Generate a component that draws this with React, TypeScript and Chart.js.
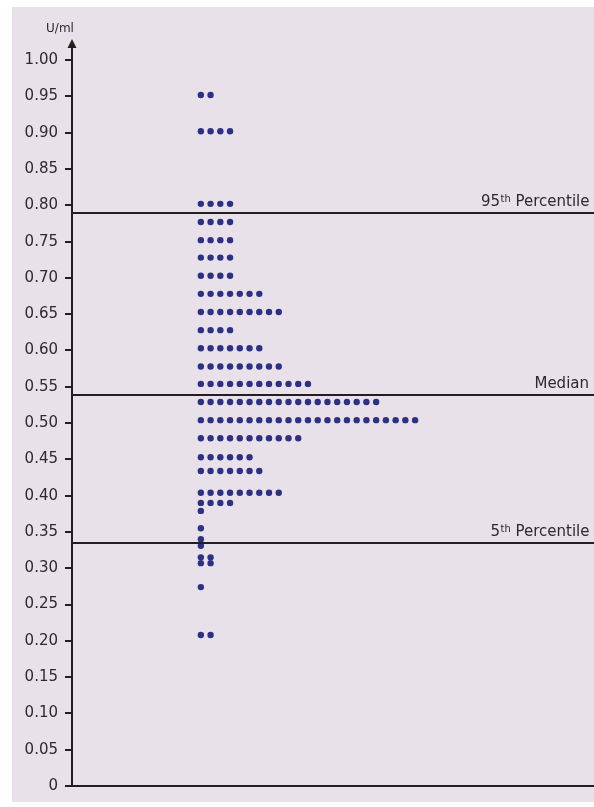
import { useEffect, useRef } from 'react';
import { Chart, registerables } from 'chart.js';

Chart.register(...registerables);

// Each row of dots: its value (U/ml) and how many dots sit on it
const rowValues = [
  0.952, 0.902, 0.802, 0.777, 0.752, 0.728, 0.703, 0.678, 0.653, 0.628,
  0.603, 0.578, 0.554, 0.529, 0.504, 0.479, 0.453, 0.434, 0.404, 0.39,
  0.379, 0.355, 0.34, 0.331, 0.315, 0.307, 0.274, 0.208,
];
const rowCounts = [
  2, 4, 4, 4, 4, 4, 4, 7, 9, 4,
  7, 9, 12, 19, 23, 11, 6, 7, 9, 4,
  1, 1, 1, 1, 2, 2, 1, 2,
];

// Reference lines
const refValues = [0.79, 0.538, 0.335];
const refLabels = ['95th Percentile', 'Median', '5th Percentile'];

// Y axis ticks
const yTickValues = [
  0, 0.05, 0.1, 0.15, 0.2, 0.25, 0.3, 0.35, 0.4, 0.45, 0.5,
  0.55, 0.6, 0.65, 0.7, 0.75, 0.8, 0.85, 0.9, 0.95, 1.0,
];
const yUnit = 'U/ml';

const FONT = '"DejaVu Sans", "Liberation Sans", sans-serif';
const INK = '#231f20';
const TEXT = '#2b2b2b';
const DOT = '#2d3183';
const PANEL = '#e9e1e9';

export default function App() {
  const ref = useRef<HTMLCanvasElement>(null);

  useEffect(() => {
    if (!ref.current) return;
    const points: { x: number; y: number }[] = [];
    rowValues.forEach((v, r) => {
      for (let i = 1; i <= rowCounts[r]; i++) points.push({ x: i, y: v });
    });

    const bgPlugin = {
      id: 'bgPanel',
      beforeDraw(chart: any) {
        const ctx = chart.ctx;
        ctx.save();
        ctx.fillStyle = PANEL;
        ctx.fillRect(12, 7, chart.width - 12, 795);
        ctx.restore();
      },
    };

    const overlayPlugin = {
      id: 'overlay',
      afterDatasetsDraw(chart: any) {
        const ctx = chart.ctx;
        const { left, bottom } = chart.chartArea;
        const right = chart.width;
        const ys = chart.scales.y;
        ctx.save();
        // x axis line
        ctx.strokeStyle = INK;
        ctx.lineWidth = 2;
        ctx.beginPath();
        ctx.moveTo(left - 7, Math.round(bottom));
        ctx.lineTo(right, Math.round(bottom));
        ctx.stroke();
        // arrow head on y axis
        const top = chart.chartArea.top;
        ctx.fillStyle = INK;
        ctx.beginPath();
        ctx.moveTo(left, top - 3);
        ctx.lineTo(left - 4.5, top + 6);
        ctx.lineTo(left + 4.5, top + 6);
        ctx.closePath();
        ctx.fill();
        // unit label
        ctx.fillStyle = TEXT;
        ctx.font = `12px ${FONT}`;
        ctx.textAlign = 'center';
        ctx.textBaseline = 'middle';
        ctx.fillText(yUnit, left - 12, 29);

        // reference lines + labels
        refValues.forEach((v, i) => {
          const y = Math.round(ys.getPixelForValue(v));
          ctx.strokeStyle = INK;
          ctx.lineWidth = 2;
          ctx.beginPath();
          ctx.moveTo(left, y);
          ctx.lineTo(right, y);
          ctx.stroke();

          const label = refLabels[i];
          const m = label.match(/^(\d+)(st|nd|rd|th)(.*)$/);
          ctx.fillStyle = TEXT;
          ctx.textBaseline = 'alphabetic';
          ctx.textAlign = 'left';
          const baseY = y - 7;
          const endX = right - 5;
          if (m) {
            ctx.font = `15px ${FONT}`;
            const w1 = ctx.measureText(m[1]).width;
            const w3 = ctx.measureText(m[3]).width;
            ctx.font = `10px ${FONT}`;
            const w2 = ctx.measureText(m[2]).width;
            let x = endX - (w1 + w2 + w3);
            ctx.font = `15px ${FONT}`;
            ctx.fillText(m[1], x, baseY);
            x += w1 + 0.5;
            ctx.font = `10px ${FONT}`;
            ctx.fillText(m[2], x, baseY - 4);
            x += w2;
            ctx.font = `15px ${FONT}`;
            ctx.fillText(m[3], x, baseY);
          } else {
            ctx.font = `15px ${FONT}`;
            ctx.textAlign = 'right';
            ctx.fillText(label, endX, baseY);
          }
        });
        ctx.restore();
      },
    };

    const chart = new Chart(ref.current, {
      type: 'scatter',
      data: {
        datasets: [
          {
            data: points,
            pointRadius: 3.2,
            pointHoverRadius: 3.2,
            pointBackgroundColor: DOT,
            pointBorderWidth: 0,
            showLine: false,
          },
        ],
      },
      options: {
        responsive: false,
        animation: false,
        layout: { padding: { top: 42, bottom: 21, left: 0, right: 0 } },
        plugins: { legend: { display: false }, tooltip: { enabled: false } },
        scales: {
          x: { type: 'linear', display: false, min: -12.23, max: 41.04 },
          y: {
            type: 'linear',
            position: 'left',
            min: 0,
            max: 1.025,
            afterBuildTicks: (s: any) => {
              s.ticks = yTickValues.map((v) => ({ value: v }));
            },
            afterFit: (s: any) => {
              s.width = 72;
            },
            ticks: {
              autoSkip: false,
              padding: 7,
              color: TEXT,
              font: { family: FONT, size: 15 },
              callback: (v: any) => (Number(v) === 0 ? '0' : Number(v).toFixed(2)),
            },
            grid: {
              drawOnChartArea: false,
              drawTicks: true,
              tickLength: 7,
              color: INK,
              lineWidth: 2,
            },
            border: { display: true, color: INK, width: 2 },
          },
        },
      },
      plugins: [bgPlugin, overlayPlugin],
    });
    return () => chart.destroy();
  }, []);

  return (
    <div style={{ position: 'fixed', left: 0, top: 0, width: 594, height: 807 }}>
      <canvas ref={ref} width={594} height={807} style={{ width: 594, height: 807, display: 'block' }} />
    </div>
  );
}
